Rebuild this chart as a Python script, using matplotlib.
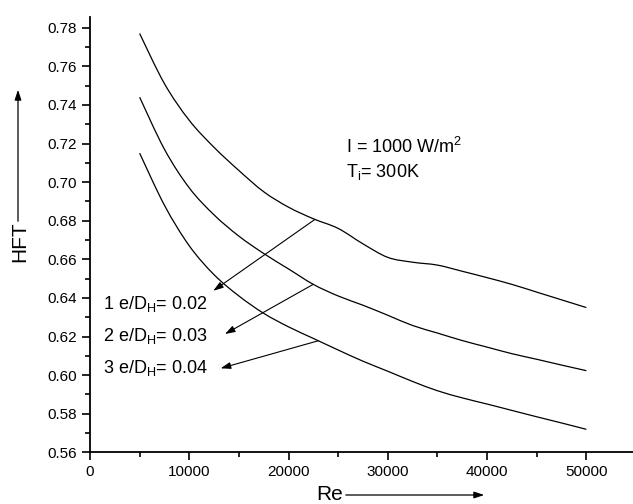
import numpy as np
import matplotlib
matplotlib.use("Agg")
import matplotlib.pyplot as plt
from matplotlib.path import Path
from matplotlib.patches import PathPatch, FancyArrowPatch
from matplotlib.ticker import MultipleLocator

plt.rcParams['font.family'] = ['Liberation Sans', 'DejaVu Sans']
plt.rcParams['mathtext.fontset'] = 'custom'
plt.rcParams['mathtext.rm'] = 'Liberation Sans'
plt.rcParams['mathtext.it'] = 'Liberation Sans:italic'

# ===============================
# DATA
# ===============================
re_vals = [5000, 7500, 10000, 12500, 15000, 17500, 20000, 22500, 25000, 27500,
           30000, 32500, 35000, 37500, 40000, 42500, 45000, 47500, 50000]

hft_002 = [0.777, 0.751, 0.732, 0.718, 0.706, 0.695, 0.687, 0.681, 0.676, 0.668,
           0.661, 0.6585, 0.657, 0.6538, 0.6505, 0.647, 0.643, 0.639, 0.635]
hft_003 = [0.744, 0.717, 0.697, 0.683, 0.672, 0.663, 0.655, 0.647, 0.641, 0.6362,
           0.631, 0.6257, 0.6218, 0.6179, 0.6145, 0.6111, 0.6082, 0.6052, 0.6023]
hft_004 = [0.715, 0.688, 0.667, 0.652, 0.641, 0.632, 0.625, 0.619, 0.613, 0.6072,
           0.602, 0.5967, 0.5919, 0.5882, 0.585, 0.5817, 0.5784, 0.5752, 0.5719]

series = [hft_002, hft_003, hft_004]
labels = [r'1 e/D$_{\mathrm{H}}$= 0.02',
          r'2 e/D$_{\mathrm{H}}$= 0.03',
          r'3 e/D$_{\mathrm{H}}$= 0.04']

# arrow tail x on each curve, arrow head points, label anchors
tail_x = [22660, 22490, 23000]
heads = [(12420, 0.6437), (13600, 0.6213), (13160, 0.6035)]
label_pos = [(1310, 0.637), (1310, 0.6205), (1310, 0.6035)]


# ===============================
# spline-style line (like Origin's smooth connect)
# ===============================
def smooth_path(x, y):
    x = np.asarray(x, float)
    y = np.asarray(y, float)
    n = len(x)
    verts = [(x[0], y[0])]
    codes = [Path.MOVETO]
    for i in range(n - 1):
        a = max(i - 1, 0)
        b = min(i + 2, n - 1)
        c1 = (x[i] + (x[i + 1] - x[a]) / 6, y[i] + (y[i + 1] - y[a]) / 6)
        c2 = (x[i + 1] - (x[b] - x[i]) / 6, y[i + 1] - (y[b] - y[i]) / 6)
        verts += [c1, c2, (x[i + 1], y[i + 1])]
        codes += [Path.CURVE4] * 3
    return Path(verts, codes)


# ===============================
# FIGURE
# ===============================
W, H = 633, 504
fig = plt.figure(figsize=(W / 100, H / 100), dpi=100)
ax = fig.add_axes([90 / W, (H - 452.3) / H, (636 - 90) / W, (452.3 - 17.3) / H])

for ys in series:
    ax.add_patch(PathPatch(smooth_path(re_vals, ys), fill=False,
                           edgecolor='black', lw=0.9))

for ys, tx, head, lab, lp in zip(series, tail_x, heads, labels, label_pos):
    ty = np.interp(tx, re_vals, ys)
    ax.annotate('', xy=head, xytext=(tx, ty),
                arrowprops=dict(arrowstyle='-|>,head_length=0.6,head_width=0.2',
                                color='black', lw=0.8, shrinkA=0, shrinkB=0))
    ax.text(lp[0], lp[1], lab, fontsize=13, va='center', ha='left')

ax.text(25800, 0.7184, r'I = 1000 W/m$^{\mathrm{2}}$', fontsize=13, va='center')
ax.text(25800, 0.7054, r'T$_{\mathrm{i}}$= 300K', fontsize=13, va='center')

ax.set_xlim(0, 55000)
ax.set_ylim(0.56, 0.7854)
ax.xaxis.set_major_locator(MultipleLocator(10000))
ax.xaxis.set_minor_locator(MultipleLocator(5000))
ax.yaxis.set_major_locator(MultipleLocator(0.02))
ax.yaxis.set_minor_locator(MultipleLocator(0.01))
ax.yaxis.set_major_formatter(plt.FormatStrFormatter('%.2f'))

for s in ['top', 'right']:
    ax.spines[s].set_visible(False)
for s in ['left', 'bottom']:
    ax.spines[s].set_linewidth(1.3)

ax.tick_params(which='major', direction='out', length=6, width=1.2, labelsize=11)
ax.tick_params(which='minor', direction='out', length=3.5, width=1.2)

# axis titles with arrows (figure pixel coords)
fig.text(20 / W, 1 - 242 / H, 'HFT', fontsize=15, rotation=90, ha='center', va='center')
fig.add_artist(FancyArrowPatch(
    (18 / W, 1 - 224 / H), (18 / W, 1 - 87 / H), transform=fig.transFigure,
    arrowstyle='-|>,head_length=0.6,head_width=0.2', color='black', lw=0.9,
    mutation_scale=10))

fig.text(316 / W, 1 - 495 / H, 'Re', fontsize=15, ha='left', va='center')
fig.add_artist(FancyArrowPatch(
    (343 / W, 1 - 495 / H), (487 / W, 1 - 495 / H), transform=fig.transFigure,
    arrowstyle='-|>,head_length=0.6,head_width=0.2', color='black', lw=0.9,
    mutation_scale=10))

fig.savefig('out.png', dpi=100)
